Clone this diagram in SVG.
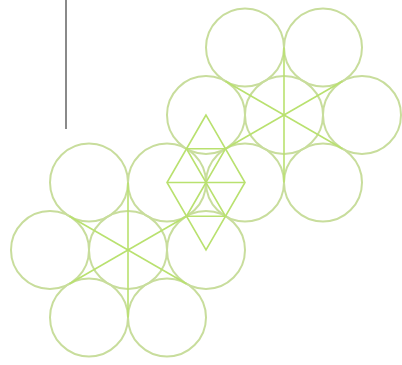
<svg xmlns="http://www.w3.org/2000/svg" width="402" height="365" viewBox="0 0 402 365">
<style>
.c{fill:none;stroke:#c8dd9c;stroke-width:2}
.l{fill:none;stroke:#b9e16f;stroke-width:1.6;stroke-linejoin:miter}
</style>
<rect width="402" height="365" fill="#ffffff"/>
<line id="bar" x1="66" y1="0" x2="66" y2="129" stroke="#8a8a8a" stroke-width="2"/>
<g id="cluster-lower">
<circle class="c" cx="128" cy="250" r="39"/>
<circle class="c" cx="89" cy="182.5" r="39"/>
<circle class="c" cx="167" cy="182.5" r="39"/>
<circle class="c" cx="50" cy="250" r="39"/>
<circle class="c" cx="206" cy="250" r="39"/>
<circle class="c" cx="89" cy="317.5" r="39"/>
<circle class="c" cx="167" cy="317.5" r="39"/>
</g>
<g id="cluster-upper">
<circle class="c" cx="284" cy="115" r="39"/>
<circle class="c" cx="245" cy="47.5" r="39"/>
<circle class="c" cx="323" cy="47.5" r="39"/>
<circle class="c" cx="206" cy="115" r="39"/>
<circle class="c" cx="362" cy="115" r="39"/>
<circle class="c" cx="245" cy="182.5" r="39"/>
<circle class="c" cx="323" cy="182.5" r="39"/>
</g>
<g id="lines">
<line class="l" x1="128" y1="182.5" x2="128" y2="317.5"/>
<line class="l" x1="69.5" y1="216.25" x2="186.5" y2="283.75"/>
<line class="l" x1="69.5" y1="283.75" x2="186.5" y2="216.25"/>
<line class="l" x1="284" y1="47.5" x2="284" y2="182.5"/>
<line class="l" x1="225.5" y1="81.25" x2="342.5" y2="148.75"/>
<line class="l" x1="225.5" y1="148.75" x2="342.5" y2="81.25"/>
</g>
<g id="star">
<polygon class="l" points="206,115 167,182.5 206,250 245,182.5"/>
<line class="l" x1="167" y1="182.5" x2="245" y2="182.5"/>
<polygon class="l" points="186.5,148.75 225.5,148.75 206,182.5"/>
<polygon class="l" points="206,182.5 186.5,216.25 225.5,216.25"/>
</g>
</svg>
